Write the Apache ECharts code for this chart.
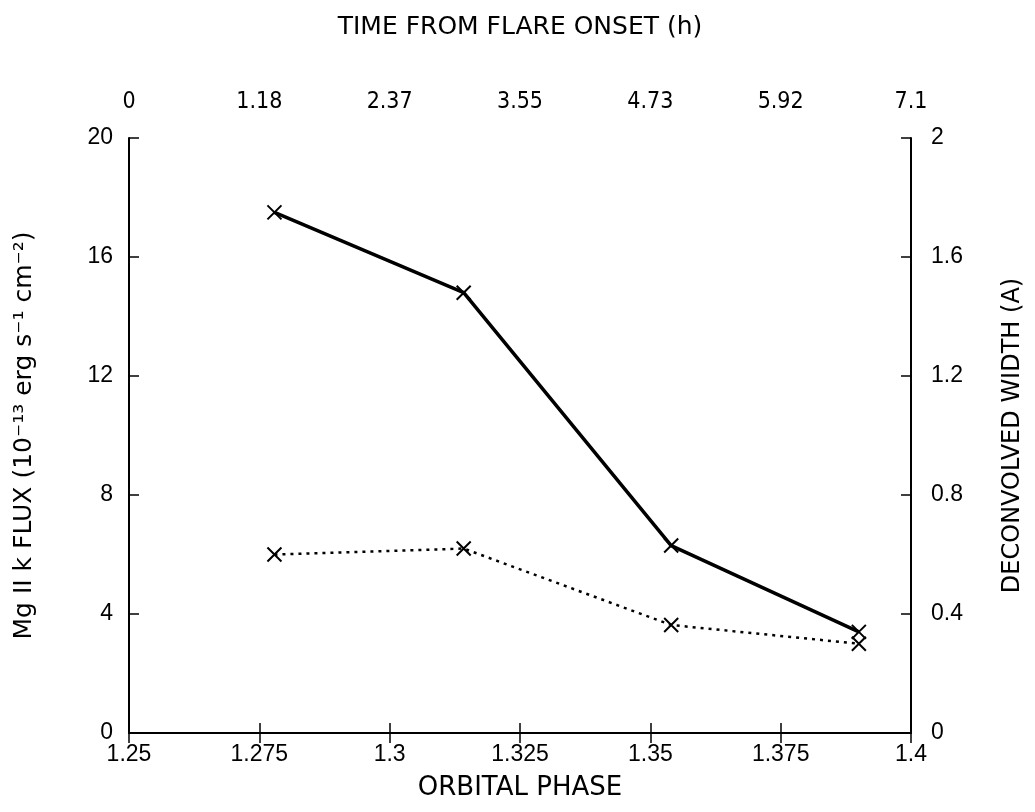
<!DOCTYPE html>
<html>
<head>
<meta charset="utf-8">
<script src="https://cdn.jsdelivr.net/npm/echarts@6/dist/echarts.min.js"></script>
<style>
html,body{margin:0;padding:0;background:#fff;}
#chart{width:1035px;height:812px;}
</style>
</head>
<body>
<div id="chart"></div>
<script>
// Orbital phase of each observation
const phase = [1.2779, 1.3142, 1.3540, 1.3900];
// Mg II k flux (10^-13 erg s^-1 cm^-2) — solid line, left axis
const flux = [17.5, 14.8, 6.3, 3.4];
// Deconvolved width (A) — dotted line, right axis
const width = [0.60, 0.62, 0.363, 0.30];
// Top axis tick labels (time from flare onset, h)
const timeLabels = ['0', '1.18', '2.37', '3.55', '4.73', '5.92', '7.1'];
const timeMax = 7.1;
const timeStep = timeMax / 6;

const font = 'Liberation Sans, DejaVu Sans, sans-serif';
const titleFont = 'DejaVu Sans, sans-serif';
const crossPath = 'path://M0,0L10,10M10,0L0,10';

const chart = echarts.init(document.getElementById('chart'));
const axisCommon = {
  axisLine: {show: true, lineStyle: {color: '#000', width: 2}},
  axisTick: {show: true, inside: true, length: 10, lineStyle: {color: '#000', width: 1.5}},
  splitLine: {show: false},
  axisLabel: {color: '#000', fontFamily: font, fontSize: 23},
  nameTextStyle: {color: '#000', fontFamily: titleFont, fontSize: 24}
};

chart.setOption({
  animation: false,
  backgroundColor: '#fff',
  grid: {left: 129, right: 124, top: 138, bottom: 79, containLabel: false},
  xAxis: [
    Object.assign({}, axisCommon, {
      type: 'value', position: 'bottom', min: 1.25, max: 1.4, interval: 0.025,
      name: 'ORBITAL PHASE', nameLocation: 'middle', nameGap: 42,
      nameTextStyle: Object.assign({}, axisCommon.nameTextStyle, {fontSize: 26}),
      axisLabel: Object.assign({}, axisCommon.axisLabel, {margin: 10, formatter: v => String(+v.toFixed(3))})
    }),
    Object.assign({}, axisCommon, {
      type: 'value', position: 'top', min: 0, max: timeMax, interval: timeStep,
      name: 'TIME FROM FLARE ONSET (h)', nameLocation: 'middle', nameGap: 98,
      nameTextStyle: Object.assign({}, axisCommon.nameTextStyle, {fontSize: 25}),
      axisLabel: Object.assign({}, axisCommon.axisLabel, {margin: 24, fontFamily: 'DejaVu Sans Condensed, Liberation Sans Narrow, sans-serif',
        formatter: v => timeLabels[Math.round(v / timeStep)]})
    })
  ],
  yAxis: [
    Object.assign({}, axisCommon, {
      type: 'value', position: 'left', min: 0, max: 20, interval: 4,
      name: 'Mg II k FLUX (10⁻¹³ erg s⁻¹ cm⁻²)', nameLocation: 'middle', nameGap: 92, nameRotate: 90,
      nameTextStyle: Object.assign({}, axisCommon.nameTextStyle, {fontSize: 25}),
      axisLabel: Object.assign({}, axisCommon.axisLabel, {margin: 16})
    }),
    Object.assign({}, axisCommon, {
      type: 'value', position: 'right', min: 0, max: 2, interval: 0.4,
      name: 'DECONVOLVED WIDTH (A)', nameLocation: 'middle', nameGap: 90, nameRotate: 90,
      axisLabel: Object.assign({}, axisCommon.axisLabel, {margin: 20, formatter: v => String(+v.toFixed(1))})
    })
  ],
  series: [
    {
      type: 'line', xAxisIndex: 0, yAxisIndex: 0,
      data: phase.map((p, i) => [p, flux[i]]),
      lineStyle: {color: '#000', width: 3.5, type: 'solid'},
      symbol: crossPath, symbolSize: 14,
      itemStyle: {color: 'none', borderColor: '#000', borderWidth: 2}
    },
    {
      type: 'line', xAxisIndex: 0, yAxisIndex: 1,
      data: phase.map((p, i) => [p, width[i]]),
      lineStyle: {color: '#000', width: 2.5, type: [3, 5]},
      symbol: crossPath, symbolSize: 14,
      itemStyle: {color: 'none', borderColor: '#000', borderWidth: 2}
    }
  ]
});
</script>
</body>
</html>
